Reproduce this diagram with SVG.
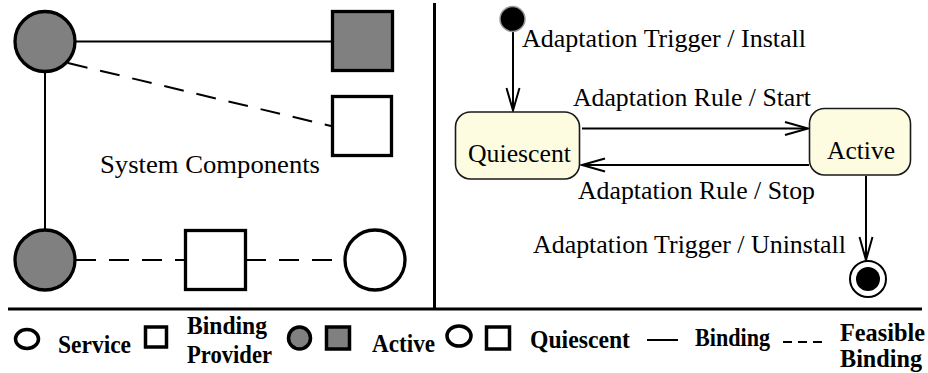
<svg xmlns="http://www.w3.org/2000/svg" width="928" height="373" viewBox="0 0 928 373">
  <style>
    .comp { stroke: #000; stroke-width: 3.3; }
    .active { fill: #808080; }
    .quiet { fill: #fff; }
    .bind { stroke: #000; stroke-width: 2; fill: none; }
    .feas { stroke: #000; stroke-width: 2; fill: none; stroke-dasharray: 20 13; }
    .state { fill: #fdfce0; stroke: #1a1a1a; stroke-width: 1.6; }
    .trans { stroke: #000; stroke-width: 2; fill: none; }
    .head { stroke: #000; stroke-width: 2; fill: none; stroke-linejoin: miter; }
    .lbl { font-family: 'Liberation Serif', 'Times New Roman', serif; font-size: 25.5px; fill: #000; }
    .leg { font-family: 'Liberation Serif', 'Times New Roman', serif; font-size: 25px; font-weight: bold; fill: #000; }
    .legshape { stroke: #000; stroke-width: 3.5; }
    .frame { stroke: #000; stroke-width: 3; fill: none; }
  </style>

  <!-- frame: vertical divider and legend separator -->
  <g id="frame">
    <line class="frame" x1="434.5" y1="3" x2="434.5" y2="309"/>
    <line class="frame" x1="8" y1="309" x2="922" y2="309"/>
  </g>

  <!-- left panel: component bindings -->
  <g id="bindings">
    <line class="bind" x1="76" y1="41.5" x2="332" y2="41.5"/>
    <line class="bind" x1="45" y1="71" x2="45" y2="230"/>
    <line class="feas" x1="68" y1="63" x2="331" y2="126"/>
    <line class="feas" x1="76" y1="260" x2="185" y2="260"/>
    <line class="feas" x1="246" y1="260" x2="345" y2="260"/>
  </g>
  <g id="service-a"><circle class="comp active" cx="45" cy="41.5" r="30"/></g>
  <g id="provider-a"><rect class="comp active" x="332.5" y="11.5" width="60" height="59"/></g>
  <g id="provider-b"><rect class="comp quiet" x="332.5" y="96.5" width="59" height="59"/></g>
  <g id="service-b"><circle class="comp active" cx="45" cy="260" r="30"/></g>
  <g id="provider-c"><rect class="comp quiet" x="185.5" y="230.5" width="60" height="59"/></g>
  <g id="service-c"><circle class="comp quiet" cx="375" cy="260" r="30"/></g>
  <text class="lbl" x="100" y="173" style="font-size:26px" textLength="220" lengthAdjust="spacingAndGlyphs">System Components</text>

  <!-- right panel: lifecycle state machine -->
  <g id="transitions">
    <line class="trans" x1="513" y1="31" x2="513" y2="110"/>
    <polyline class="head" points="506.5,88 513,110.5 519.5,88"/>
    <line class="trans" x1="582" y1="128.5" x2="807" y2="128.5"/>
    <polyline class="head" points="785,122 808,128.5 785,135"/>
    <line class="trans" x1="583" y1="165" x2="809" y2="165"/>
    <polyline class="head" points="605,158.5 582,165 605,171.5"/>
    <line class="trans" x1="866" y1="176" x2="866" y2="259"/>
    <polyline class="head" points="859.5,237 866,260 872.5,237"/>
    <text class="lbl" x="522" y="47" textLength="284" lengthAdjust="spacingAndGlyphs">Adaptation Trigger / Install</text>
    <text class="lbl" x="573" y="106" textLength="238" lengthAdjust="spacingAndGlyphs">Adaptation Rule / Start</text>
    <text class="lbl" x="578" y="199" textLength="237" lengthAdjust="spacingAndGlyphs">Adaptation Rule / Stop</text>
    <text class="lbl" x="533" y="253" textLength="313" lengthAdjust="spacingAndGlyphs">Adaptation Trigger / Uninstall</text>
  </g>
  <g id="initial">
    <circle cx="512.5" cy="19" r="12.5" fill="#000" stroke="#999" stroke-width="1.5"/>
  </g>
  <g id="quiescent">
    <rect class="state" x="455.5" y="112" width="124" height="67" rx="15" ry="15"/>
    <text class="lbl" x="468" y="162" textLength="103" lengthAdjust="spacingAndGlyphs">Quiescent</text>
  </g>
  <g id="active">
    <rect class="state" x="809.5" y="108.5" width="101" height="66.5" rx="15" ry="15"/>
    <text class="lbl" x="827" y="159" textLength="68" lengthAdjust="spacingAndGlyphs">Active</text>
  </g>
  <g id="final">
    <circle cx="868" cy="279" r="18" fill="#fff" stroke="#000" stroke-width="2"/>
    <circle cx="868" cy="279" r="12" fill="#000"/>
  </g>

  <!-- legend -->
  <g id="legend">
    <ellipse class="legshape" cx="27" cy="339" rx="11.5" ry="9.5" fill="#fff"/>
    <text class="leg" x="58" y="353" textLength="73" lengthAdjust="spacingAndGlyphs">Service</text>
    <rect class="legshape" x="145.5" y="327" width="21" height="20" fill="#fff"/>
    <text class="leg" x="187" y="334" textLength="80" lengthAdjust="spacingAndGlyphs">Binding</text>
    <text class="leg" x="187" y="363" textLength="85" lengthAdjust="spacingAndGlyphs">Provider</text>
    <ellipse class="legshape" cx="299.5" cy="338" rx="11" ry="11" fill="#808080"/>
    <rect class="legshape" x="326.5" y="327" width="23" height="22" fill="#808080"/>
    <text class="leg" x="372" y="352" textLength="63" lengthAdjust="spacingAndGlyphs">Active</text>
    <ellipse class="legshape" cx="459" cy="336" rx="12" ry="10" fill="#fff"/>
    <rect class="legshape" x="486.5" y="327" width="23" height="22" fill="#fff"/>
    <text class="leg" x="530" y="348" textLength="100" lengthAdjust="spacingAndGlyphs">Quiescent</text>
    <line x1="647" y1="340" x2="678" y2="340" stroke="#000" stroke-width="2"/>
    <text class="leg" x="695" y="346" textLength="75" lengthAdjust="spacingAndGlyphs">Binding</text>
    <line x1="783" y1="342" x2="824" y2="342" stroke="#000" stroke-width="2" stroke-dasharray="9 6"/>
    <text class="leg" x="840" y="341" textLength="85" lengthAdjust="spacingAndGlyphs">Feasible</text>
    <text class="leg" x="840" y="367" textLength="82" lengthAdjust="spacingAndGlyphs">Binding</text>
  </g>
</svg>
